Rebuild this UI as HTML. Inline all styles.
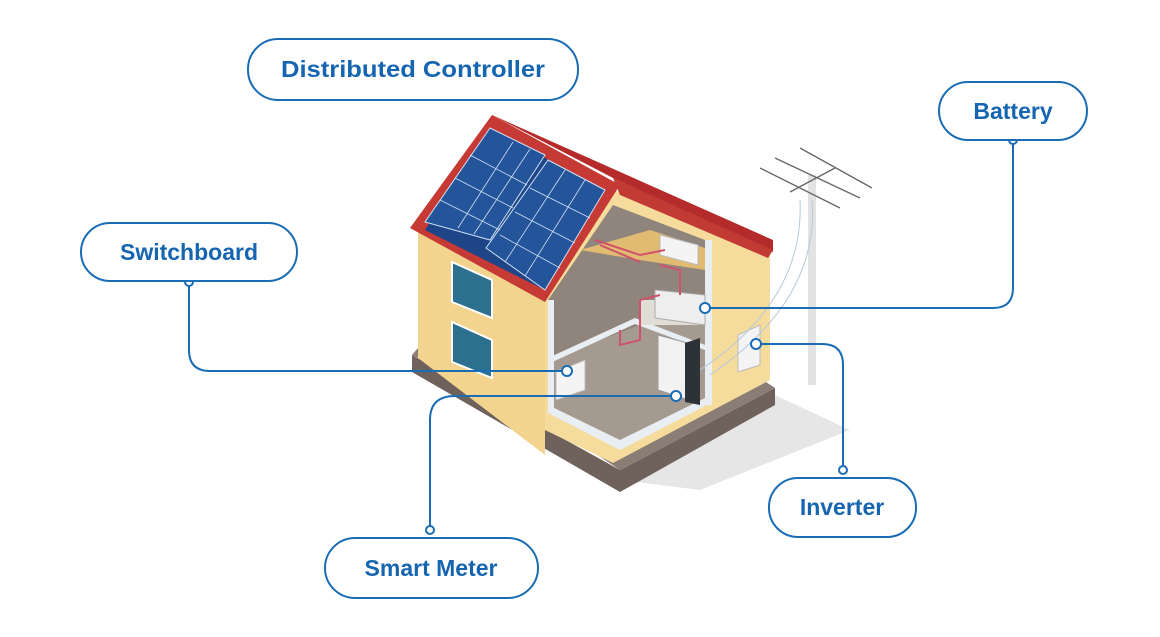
<!DOCTYPE html>
<html><head><meta charset="utf-8"><style>
html,body{margin:0;padding:0;background:#fff;}
svg{display:block;}
text{font-family:"Liberation Sans",Arial,sans-serif;font-weight:bold;fill:#1565b0;}
</style></head><body>
<svg width="1160" height="637" viewBox="0 0 1160 637" xmlns="http://www.w3.org/2000/svg">
<!-- shadow -->
<polygon points="620,480 775,395 850,430 700,490" fill="#e6e6e6"/>
<!-- base -->
<polygon points="412,355 412,372 620,492 775,405 775,388 620,470" fill="#6f625c"/>
<polygon points="412,355 545,420 620,470 775,388 760,378 620,455 418,348" fill="#8a7d76"/>
<!-- left wall -->
<polygon points="418,232 545,300 545,455 418,358" fill="#f3d48f"/>
<!-- front wall -->
<polygon points="545,300 613,190 770,252 770,380 613,463 545,430" fill="#f6dc9c"/>
<!-- cutaway interior -->
<polygon points="548,300 613,205 705,240 705,400 620,445 548,410" fill="#8f857d"/>
<polygon points="548,360 705,300 705,400 620,445 548,410" fill="#a59a8f"/>
<polygon points="580,250 650,230 705,248 705,270 640,260" fill="#e2bb72"/>
<rect x="548" y="300" width="6" height="110" fill="#e9eef2"/>
<polygon points="548,405 620,440 705,398 705,406 620,450 548,413" fill="#e9eef2"/>
<polygon points="548,358 635,318 705,345 705,350 635,324 548,364" fill="#e9eef2"/>
<rect x="705" y="240" width="7" height="165" fill="#e9eef2"/>
<polygon points="640,300 705,300 705,325 640,325" fill="#e0dcd6"/>
<!-- devices -->
<polygon points="660,235 698,245 698,265 660,255" fill="#f4f4f4" stroke="#bbb"/>
<polygon points="655,290 705,295 705,325 655,318" fill="#eeeeee" stroke="#aaa"/>
<polygon points="658,335 695,345 695,402 658,390" fill="#f2f2f2" stroke="#999"/>
<polygon points="685,343 700,338 700,405 685,402" fill="#2d3238"/>
<polygon points="556,372 585,360 585,390 556,400" fill="#f4f4f4" stroke="#bbb"/>
<polygon points="738,335 760,325 760,365 738,372" fill="#f4f4f4" stroke="#bbb"/>
<!-- red wires -->
<path d="M595,240 L640,255 L665,250 M600,245 L640,262 M660,265 L680,270 L680,295 M620,330 L620,345 L640,340 L640,300 L660,295" stroke="#d0526a" stroke-width="2" fill="none"/>
<!-- windows -->
<polygon points="452,262 492,280 492,318 452,302" fill="#2d6f8f" stroke="#fff" stroke-width="2"/>
<polygon points="452,322 492,340 492,378 452,362" fill="#2d6f8f" stroke="#fff" stroke-width="2"/>
<!-- roof -->
<polygon points="492,115 773,240 773,252 613,178" fill="#b52b2b"/>
<polygon points="613,178 773,250 768,258 620,195" fill="#c23a34"/>
<polygon points="492,115 620,185 545,302 410,228" fill="#c63a36"/>
<polygon points="490,128 560,166 545,290 425,230" fill="#1e4588"/>
<polygon points="490,128 545,155 490,240 425,222" fill="#24549a" stroke="#cfe0f5" stroke-width="1"/>
<polygon points="548,160 605,190 545,290 486,248" fill="#24549a" stroke="#cfe0f5" stroke-width="1"/>
<g stroke="#cfe0f5" stroke-width="0.8">
<line x1="440" y1="200" x2="500" y2="230"/><line x1="455" y1="178" x2="513" y2="208"/><line x1="470" y1="155" x2="527" y2="185"/>
<line x1="500" y1="235" x2="560" y2="268"/><line x1="515" y1="212" x2="575" y2="243"/><line x1="530" y1="188" x2="590" y2="218"/>
<line x1="458" y1="228" x2="513" y2="142"/><line x1="474" y1="234" x2="530" y2="149"/>
<line x1="505" y1="262" x2="565" y2="170"/><line x1="525" y1="276" x2="585" y2="180"/>
</g>
<!-- pole -->
<rect x="808" y="175" width="8" height="210" fill="#e2e2e2"/>
<g stroke="#666" stroke-width="1.3">
<line x1="760" y1="168" x2="840" y2="208"/><line x1="775" y1="158" x2="860" y2="198"/><line x1="800" y1="148" x2="872" y2="188"/><line x1="790" y1="192" x2="835" y2="168"/>
</g>
<path d="M800,200 Q805,300 700,370 M812,200 Q820,300 710,375" stroke="#b7c9da" fill="none"/>
<!-- connectors -->
<g fill="none" stroke="#1a6cb5" stroke-width="2">
<path d="M189,282 V350 Q189,371 210,371 H567"/>
<path d="M1013,140 V288 Q1013,308 993,308 H705"/>
<path d="M843,470 V365 Q843,344 822,344 H756"/>
<path d="M430,530 V420 Q430,396 455,396 H676"/>
</g>
<g fill="#fff" stroke="#1a6cb5" stroke-width="2">
<circle cx="189" cy="282" r="4"/><circle cx="567" cy="371" r="5"/>
<circle cx="1013" cy="140" r="4"/><circle cx="705" cy="308" r="5"/>
<circle cx="843" cy="470" r="4"/><circle cx="756" cy="344" r="5"/>
<circle cx="430" cy="530" r="4"/><circle cx="676" cy="396" r="5"/>
</g>
<!-- labels -->
<g fill="#fff" stroke="#1a6cb5" stroke-width="2">
<rect x="248" y="39" width="330" height="61" rx="30"/>
<rect x="939" y="82" width="148" height="58" rx="29"/>
<rect x="81" y="223" width="216" height="58" rx="29"/>
<rect x="769" y="478" width="147" height="59" rx="29"/>
<rect x="325" y="538" width="213" height="60" rx="30"/>
</g>
<text x="413" y="77" text-anchor="middle" font-size="23" textLength="264" lengthAdjust="spacingAndGlyphs">Distributed Controller</text>
<text x="1013" y="119" text-anchor="middle" font-size="23">Battery</text>
<text x="189" y="260" text-anchor="middle" font-size="23">Switchboard</text>
<text x="842" y="515" text-anchor="middle" font-size="23">Inverter</text>
<text x="431" y="576" text-anchor="middle" font-size="23">Smart Meter</text>
</svg>
</body></html>
